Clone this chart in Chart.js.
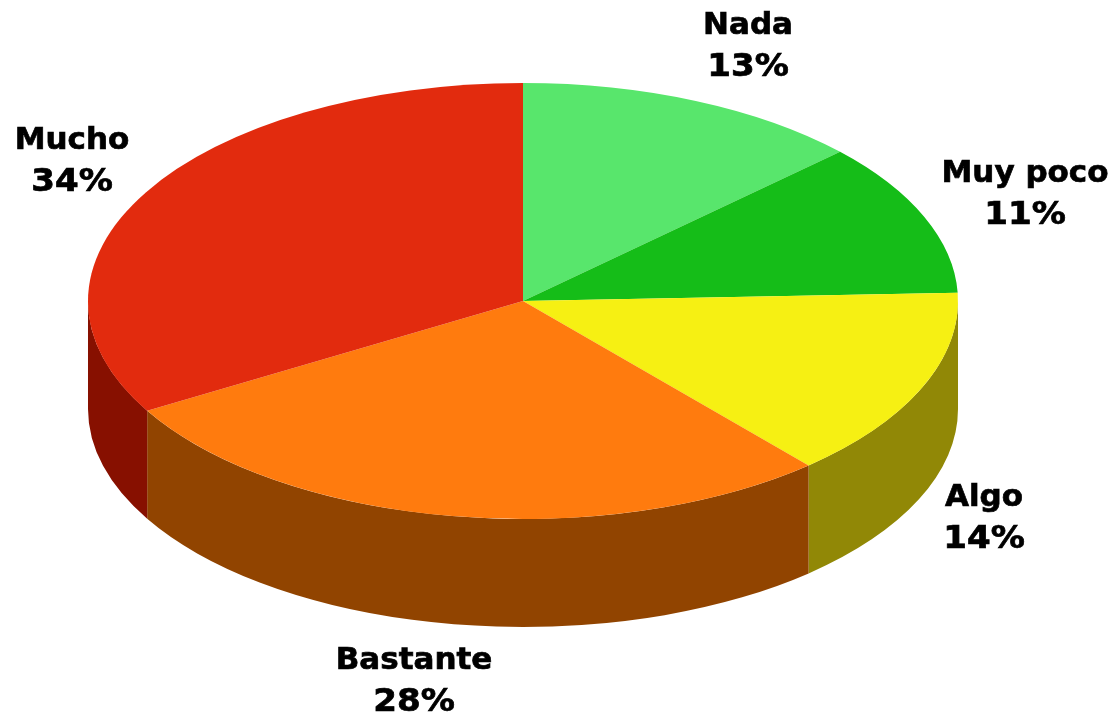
<!DOCTYPE html>
<html>
<head>
<meta charset="utf-8">
<style>
  html, body { margin: 0; padding: 0; background: #fff; }
  #pie-wrap { position: relative; width: 1111px; height: 715px; }
</style>
<script src="https://cdn.jsdelivr.net/npm/chart.js@4"></script>
</head>
<body>
<div id="pie-wrap"><canvas id="pie-chart"></canvas></div>
<script>
// Slice sizes, percent labels as printed on it
const categories = ['Nada', 'Muy poco', 'Algo', 'Bastante', 'Mucho'];
const shares = [13, 11.4, 14.2, 28, 33.4];
const percentLabels = ['13%', '11%', '14%', '28%', '34%'];
const topColors = ['#58e66c', '#15bd18', '#f6f013', '#ff7b0e', '#e22b0e'];
const sideColors = ['#2c7336', '#0b5f0c', '#918806', '#914400', '#871000'];
// centre of each two line label
const labelSpots = [[748, 47], [1025, 195], [984, 519], [414, 682], [72, 162]];

const squash = 218 / 435;
const depth = 108;

// Squeezes the flat pie into an ellipse and puts the wall under it
const tiltPlugin = {
    id: 'tilt',
    beforeDatasetsDraw(chart) {
        const ctx = chart.ctx;
        const arcs = chart.getDatasetMeta(0).data;
        arcs.forEach((arc, i) => {
            const from = Math.max(arc.startAngle, 0);
            const to = Math.min(arc.endAngle, Math.PI);
            if (to <= from) return;
            const rx = arc.outerRadius;
            const ry = rx * squash;
            ctx.beginPath();
            ctx.ellipse(arc.x, arc.y, rx, ry, 0, from, to);
            ctx.ellipse(arc.x, arc.y + depth, rx, ry, 0, to, from, true);
            ctx.closePath();
            ctx.fillStyle = sideColors[i];
            ctx.fill();
        });
        const first = arcs[0];
        ctx.save();
        ctx.translate(0, first.y);
        ctx.scale(1, squash);
        ctx.translate(0, -first.y);
    },
    afterDatasetsDraw(chart) {
        chart.ctx.restore();
    },
    afterDraw(chart) {
        const ctx = chart.ctx;
        ctx.save();
        ctx.font = 'bold 31px "DejaVu Sans"';
        ctx.fillStyle = '#000';
        ctx.strokeStyle = '#000';
        ctx.lineWidth = 0.7;
        ctx.textAlign = 'center';
        ctx.textBaseline = 'middle';
        categories.forEach((name, i) => {
            const [x, y] = labelSpots[i];
            ctx.fillText(name, x, y - 21);
            ctx.strokeText(name, x, y - 21);
            // the percent digits are wider than DejaVu's
            ctx.save();
            ctx.translate(x, y + 21);
            ctx.scale(1.1, 1.05);
            ctx.fillText(percentLabels[i], 0, 0);
            ctx.strokeText(percentLabels[i], 0, 0);
            ctx.restore();
        });
        ctx.restore();
    }
};

new Chart(document.getElementById('pie-chart'), {
    type: 'pie',
    data: {
        labels: categories,
        datasets: [{ data: shares, backgroundColor: topColors, borderWidth: 0 }]
    },
    options: {
        responsive: true,
        maintainAspectRatio: false,
        animation: false,
        radius: 435,
        layout: { padding: { right: 65, bottom: 113 } },
        plugins: { legend: { display: false }, tooltip: { enabled: false } }
    },
    plugins: [tiltPlugin]
});
</script>
</body>
</html>
